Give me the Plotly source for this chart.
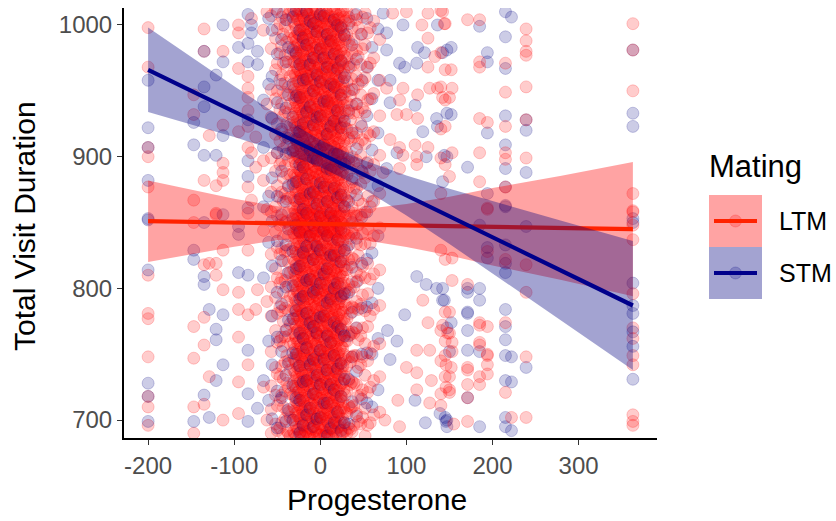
import plotly.graph_objects as go

# ---------------- data ----------------
# Long-term mating (LTM) points, by progesterone column
ltm_left = {
    -200: [998, 968, 907, 900, 877, 810, 781, 777, 748, 718, 710, 696],
    -147: [947, 932, 867, 850, 771, 747, 710, 690],
    -135: [997, 980, 882, 818, 778, 757, 712],
    -129: [916, 819, 733],
    -121: [878, 857, 856, 819, 810],
    -113: [980, 924, 895, 888, 882, 829, 799, 700],
    -95: [1000, 994, 967, 919, 797, 784, 763, 729, 705],
    -84: [961, 952, 945, 935, 923, 907, 877, 857, 829, 780, 742],
    -80: [1005, 903, 867],
    -75: [915, 892, 784],
    -73: [799],
    -66: [996, 897, 882, 844, 725],
    -62: [1010, 940, 860, 790, 700],
}
ltm_mid = {
    -57: [1007, 982, 951, 930, 899, 873, 858, 826, 801, 779, 752, 726, 708, 690],
    -52: [1012, 990, 966, 944, 917, 889, 862, 843, 815, 793, 768, 740, 719, 697],
    -50: [997, 971, 950, 925, 903, 878, 855, 831, 808, 781, 759, 735, 711, 692],
    -47: [1001, 979, 958, 936, 912, 894, 869, 848, 826, 804, 786, 760, 733, 715, 694],
    -45: [1006, 984, 962, 940, 919, 897, 873, 852, 830, 807, 783, 763, 741, 719, 698],
    -43: [1009, 993, 971, 949, 931, 906, 884, 866, 839, 821, 797, 775, 756, 731, 710, 689],
    -41: [999, 977, 956, 934, 915, 893, 872, 850, 828, 806, 785, 763, 744, 722, 701],
    -39: [1004, 987, 966, 947, 925, 909, 887, 868, 851, 829, 811, 790, 769, 749, 728, 707, 692],
    -37: [1008, 990, 972, 953, 933, 916, 897, 877, 858, 840, 820, 802, 783, 764, 745, 725, 706, 690],
    -35: [1011, 995, 978, 961, 940, 924, 903, 886, 869, 847, 830, 812, 794, 773, 758, 738, 720, 702, 688],
    31: [1010, 993, 975, 957, 941, 921, 903, 886, 867, 849, 831, 814, 796, 777, 760, 741, 722, 705, 690],
    33: [1006, 988, 970, 950, 933, 914, 896, 877, 859, 840, 822, 803, 785, 767, 748, 730, 711, 694],
    35: [1003, 984, 968, 946, 928, 912, 890, 872, 853, 838, 818, 799, 781, 765, 744, 727, 709, 693],
    37: [998, 979, 959, 939, 920, 900, 881, 862, 843, 823, 805, 786, 767, 748, 729, 710, 691],
    39: [1008, 989, 970, 951, 933, 915, 895, 876, 857, 841, 822, 801, 785, 766, 749, 728, 711, 696],
    42: [1004, 981, 961, 940, 918, 897, 876, 855, 834, 812, 790, 770, 749, 727, 705],
    44: [998, 976, 955, 934, 910, 891, 867, 848, 825, 806, 784, 761, 740, 718, 699],
    47: [993, 970, 947, 925, 901, 879, 856, 833, 810, 788, 764, 742, 719, 697],
    49: [1006, 982, 957, 937, 913, 888, 864, 842, 817, 795, 770, 748, 723, 702],
    52: [1009, 985, 960, 934, 910, 884, 858, 834, 808, 783, 758, 734, 709, 688],
    55: [994, 968, 943, 918, 896, 870, 845, 819, 796, 771, 745, 721, 696],
    58: [998, 971, 944, 916, 889, 862, 834, 807, 779, 751, 725, 698],
    62: [1003, 975, 948, 919, 894, 866, 840, 811, 784, 756, 730, 704],
    69: [989, 958, 931, 901, 872, 846, 814, 787, 758, 733, 706],
}
ltm_core = {
    -31: [1011, 1002, 990, 983, 972, 964, 953, 945, 937, 926, 918, 907, 899, 888, 880, 869, 861, 852, 842, 833, 822, 814, 805, 795, 785, 777, 766, 758, 747, 738, 729, 719, 710, 700, 691],
    -29.5: [1009, 1000, 991, 980, 972, 962, 951, 943, 933, 924, 914, 905, 896, 886, 877, 867, 858, 849, 839, 830, 820, 811, 802, 792, 783, 773, 764, 754, 745, 736, 726, 717, 707, 698, 689],
    -28: [1007, 997, 988, 978, 969, 960, 949, 941, 931, 922, 912, 903, 894, 884, 874, 866, 856, 846, 838, 827, 818, 809, 799, 790, 780, 771, 762, 752, 743, 733, 724, 714, 705, 695, 687],
    -26.5: [1004, 994, 985, 975, 966, 957, 947, 938, 928, 919, 909, 900, 891, 881, 872, 862, 853, 844, 834, 825, 815, 806, 797, 787, 778, 768, 759, 750, 740, 731, 721, 712, 703, 693],
    -25: [1012, 1004, 993, 985, 975, 966, 957, 947, 938, 928, 919, 910, 900, 890, 882, 872, 863, 853, 844, 835, 825, 816, 806, 797, 787, 779, 769, 760, 750, 741, 731, 722, 712, 703, 693],
    -23.5: [1011, 1002, 992, 983, 973, 964, 955, 945, 936, 926, 917, 908, 898, 889, 879, 870, 861, 851, 842, 832, 823, 814, 804, 795, 785, 776, 767, 757, 748, 738, 729, 720, 710, 701, 691],
    -22: [1009, 999, 991, 980, 971, 962, 952, 943, 934, 924, 915, 905, 896, 887, 877, 868, 858, 849, 840, 830, 821, 811, 802, 793, 783, 774, 764, 755, 746, 736, 727, 717, 708, 698, 689],
    -20.5: [1007, 997, 988, 979, 969, 960, 950, 941, 932, 922, 913, 903, 894, 885, 875, 866, 856, 847, 838, 828, 819, 809, 800, 791, 781, 772, 762, 753, 744, 734, 725, 715, 706, 697, 688],
    -19: [1005, 996, 986, 977, 967, 958, 948, 939, 930, 920, 911, 901, 892, 883, 873, 864, 855, 845, 836, 826, 817, 808, 798, 789, 779, 770, 761, 751, 742, 732, 723, 714, 704, 695, 688],
    -17.5: [1012, 1003, 993, 984, 974, 965, 956, 946, 937, 927, 918, 909, 899, 890, 880, 871, 862, 852, 843, 833, 824, 815, 805, 796, 786, 777, 768, 758, 749, 739, 730, 721, 711, 702, 692],
    -16: [1011, 1001, 992, 982, 973, 964, 954, 945, 935, 926, 917, 907, 898, 888, 879, 870, 860, 851, 841, 832, 823, 813, 804, 794, 785, 776, 766, 757, 747, 738, 729, 719, 710, 700, 691],
    -14.5: [1008, 999, 989, 980, 970, 961, 952, 942, 933, 923, 914, 905, 895, 886, 876, 867, 858, 848, 839, 829, 820, 811, 801, 792, 782, 773, 764, 754, 745, 735, 726, 717, 707, 698, 689],
    -13: [1008, 998, 989, 980, 970, 961, 951, 942, 933, 923, 914, 904, 895, 886, 876, 867, 857, 848, 839, 829, 820, 810, 801, 792, 782, 773, 763, 754, 745, 735, 726, 716, 707, 697, 688],
    -11.5: [1005, 995, 986, 976, 967, 958, 948, 939, 929, 920, 911, 901, 892, 882, 873, 864, 854, 845, 835, 826, 817, 807, 798, 788, 779, 770, 760, 751, 741, 732, 723, 713, 704, 694, 687],
    -10: [1012, 1003, 994, 984, 975, 965, 956, 947, 937, 928, 918, 909, 900, 890, 881, 871, 862, 853, 843, 834, 824, 815, 806, 796, 787, 777, 768, 759, 749, 740, 730, 721, 712, 702, 693],
    -8.5: [1010, 1001, 991, 982, 973, 963, 954, 944, 935, 926, 916, 907, 897, 888, 879, 869, 860, 850, 841, 832, 822, 813, 803, 794, 785, 775, 766, 756, 747, 738, 728, 719, 709, 700, 691],
    -7: [1006, 997, 987, 978, 968, 959, 950, 940, 931, 921, 912, 903, 893, 884, 874, 865, 856, 846, 837, 827, 818, 809, 799, 790, 780, 771, 762, 752, 743, 733, 724, 715, 705, 696, 687],
    -5.5: [1012, 1002, 993, 983, 974, 965, 955, 946, 936, 927, 918, 908, 899, 889, 880, 871, 861, 852, 842, 833, 824, 814, 805, 795, 786, 777, 767, 758, 748, 739, 730, 720, 711, 701, 692],
    -4: [1010, 1000, 991, 981, 972, 963, 953, 944, 934, 925, 916, 906, 897, 887, 878, 869, 859, 850, 840, 831, 822, 812, 803, 793, 784, 775, 765, 756, 746, 737, 728, 718, 709, 699, 690],
    -2.5: [1004, 995, 985, 976, 967, 957, 948, 938, 929, 920, 910, 901, 891, 882, 873, 863, 854, 844, 835, 826, 816, 807, 797, 788, 779, 769, 760, 750, 741, 732, 722, 713, 703, 694],
    -1: [1007, 998, 988, 979, 969, 960, 951, 941, 932, 922, 913, 904, 894, 885, 875, 866, 857, 847, 838, 828, 819, 810, 800, 791, 781, 772, 763, 753, 744, 734, 725, 716, 706, 697, 689],
    0.5: [1009, 999, 990, 981, 971, 962, 952, 943, 934, 924, 915, 905, 896, 887, 877, 868, 858, 849, 840, 830, 821, 811, 802, 793, 783, 774, 764, 755, 746, 736, 727, 717, 708, 699, 689],
    2: [1011, 1002, 992, 983, 974, 964, 955, 945, 936, 927, 917, 908, 898, 889, 880, 870, 861, 851, 842, 833, 823, 814, 804, 795, 786, 776, 767, 757, 748, 739, 729, 720, 710, 701, 692],
    3.5: [1006, 997, 987, 978, 968, 959, 950, 940, 931, 921, 912, 903, 893, 884, 874, 865, 856, 846, 837, 827, 818, 809, 799, 790, 780, 771, 762, 752, 743, 733, 724, 715, 705, 696, 688],
    5: [1005, 995, 986, 976, 967, 958, 948, 939, 929, 920, 911, 901, 892, 882, 873, 864, 854, 845, 835, 826, 817, 807, 798, 788, 779, 770, 760, 751, 741, 732, 723, 713, 704, 694, 688],
    6.5: [1011, 1001, 992, 983, 973, 964, 954, 945, 936, 926, 917, 907, 898, 889, 879, 870, 860, 851, 842, 832, 823, 813, 804, 795, 785, 776, 766, 757, 748, 738, 729, 719, 710, 701, 691],
    8: [1009, 1000, 990, 981, 971, 962, 953, 943, 934, 924, 915, 906, 896, 887, 877, 868, 859, 849, 840, 830, 821, 812, 802, 793, 783, 774, 765, 755, 746, 736, 727, 718, 708, 699, 690],
    9.5: [1007, 998, 988, 979, 970, 960, 951, 941, 932, 923, 913, 904, 894, 885, 876, 866, 857, 847, 838, 829, 819, 810, 800, 791, 782, 772, 763, 753, 744, 735, 725, 716, 706, 697, 688],
    11: [1012, 1003, 993, 984, 975, 965, 956, 946, 937, 928, 918, 909, 899, 890, 881, 871, 862, 852, 843, 834, 824, 815, 805, 796, 787, 777, 768, 758, 749, 740, 730, 721, 711, 702, 693],
    12.5: [1003, 994, 985, 975, 966, 956, 947, 938, 928, 919, 909, 900, 891, 881, 872, 862, 853, 844, 834, 825, 815, 806, 797, 787, 778, 768, 759, 750, 740, 731, 721, 712, 703, 693],
    14: [1006, 996, 987, 978, 968, 959, 949, 940, 931, 921, 912, 902, 893, 884, 874, 865, 855, 846, 837, 827, 818, 808, 799, 790, 780, 771, 761, 752, 743, 733, 724, 714, 705, 696, 687],
    15.5: [1012, 1002, 993, 984, 974, 965, 955, 946, 937, 927, 918, 908, 899, 890, 880, 871, 861, 852, 843, 833, 824, 814, 805, 796, 786, 777, 767, 758, 749, 739, 730, 720, 711, 702, 692],
    17: [1010, 1001, 991, 982, 972, 963, 954, 944, 935, 925, 916, 907, 897, 888, 878, 869, 860, 850, 841, 831, 822, 813, 803, 794, 784, 775, 766, 756, 747, 737, 728, 719, 709, 700, 691],
    18.5: [1008, 999, 989, 980, 971, 961, 952, 942, 933, 924, 914, 905, 895, 886, 877, 867, 858, 848, 839, 830, 820, 811, 801, 792, 783, 773, 764, 754, 745, 736, 726, 717, 707, 698, 689],
    20: [1004, 995, 985, 976, 966, 957, 948, 938, 929, 919, 910, 901, 891, 882, 872, 863, 854, 844, 835, 825, 816, 807, 797, 788, 778, 769, 760, 750, 741, 731, 722, 713, 703, 694],
    21.5: [1005, 996, 986, 977, 968, 958, 949, 939, 930, 921, 911, 902, 892, 883, 874, 864, 855, 845, 836, 827, 817, 808, 798, 789, 780, 770, 761, 751, 742, 733, 723, 714, 704, 695],
    23: [1008, 999, 989, 980, 970, 961, 951, 942, 933, 923, 914, 904, 895, 886, 876, 867, 857, 848, 839, 829, 820, 810, 801, 792, 782, 773, 763, 754, 745, 735, 726, 716, 707, 698, 689],
    24.5: [1010, 1000, 991, 981, 972, 963, 953, 944, 934, 925, 916, 906, 897, 887, 878, 869, 859, 850, 840, 831, 822, 812, 803, 793, 784, 775, 765, 756, 746, 737, 728, 718, 709, 699, 690],
    26: [1011, 997, 984, 971, 957, 944, 930, 917, 903, 890, 876, 863, 849, 836, 822, 809, 795, 782, 768, 755, 741, 728, 714, 701, 690],
    27.5: [1006, 993, 979, 966, 952, 939, 925, 912, 898, 885, 871, 858, 844, 831, 817, 804, 790, 777, 763, 750, 736, 723, 709, 696],
    29: [1003, 989, 976, 962, 949, 935, 922, 908, 895, 881, 868, 854, 841, 827, 814, 800, 787, 773, 760, 746, 733, 719, 706, 692],
}
ltm_right = {
    73: [888], 75: [700], 77: [952], 81: [913], 84: [1009], 89: [932], 90: [715],
    92: [943, 907, 891, 695], 96: [952, 901], 100: [1010, 932, 740], 110: [909],
    112: [900, 894, 753, 736, 723], 113: [947, 929], 118: [1000], 119: [791],
    125: [1009, 990, 968, 907, 774], 127: [952, 753, 713], 129: [730], 133: [976],
    136: [952], 140: [1011, 979, 953, 921, 899, 872, 829, 768, 745, 720, 711],
    142: [1010, 945, 772], 144: [1001], 145: [1001, 966, 943, 923, 894, 822, 782, 760, 749, 733],
    146: [742, 725], 148: [766], 150: [945, 885, 782, 766, 733, 723, 721], 152: [966, 740],
    153: [952, 903, 823, 806, 759, 752], 155: [697],
    171: [1004, 803, 740, 738, 727, 717, 699],
    185: [1004, 972, 968, 929, 903, 881, 772, 774, 759, 757, 733, 727],
    194: [926, 861, 860, 828, 771, 750, 749, 742, 735],
    215: [971, 949, 923, 903, 898, 877, 822, 774, 721],
    222: [702],
    239: [997, 988, 980, 977, 953, 928, 899, 818, 797, 748, 702],
    363: [1001, 981, 950, 872, 859, 858, 848, 837, 796, 770, 762, 749, 742, 704, 699, 696],
}

# Short-term mating (STM) points, by progesterone column
stm_left = {
    -200: [958, 922, 907, 882, 853, 852, 814, 728, 718, 699],
    -147: [926, 909, 829, 822, 699],
    -135: [980, 953, 938, 901, 850, 809, 803, 719],
    -129: [784, 702],
    -121: [962, 901, 769, 761, 730],
    -113: [1000, 972, 916, 856, 780, 742],
    -95: [983, 847, 841, 812],
    -84: [1008, 986, 972, 928, 897, 885, 861, 810, 753, 720, 699],
    -80: [1000, 994],
    -73: [980, 970, 709],
    -66: [943, 907, 862, 808, 730],
    -60: [1005, 955, 870, 835, 760, 715],
}
stm_mid = {
    -56: [996, 961, 929, 884, 851, 817, 779, 742, 701],
    -50: [1010, 978, 941, 903, 870, 836, 797, 763, 722, 694],
    -45: [989, 955, 921, 889, 856, 821, 788, 752, 717],
    -40: [1004, 972, 937, 902, 866, 833, 801, 768, 734, 699],
    -37: [983, 947, 914, 878, 845, 812, 776, 743, 708],
    33: [1001, 968, 935, 899, 866, 833, 797, 764, 731, 697],
    37: [985, 951, 918, 883, 850, 816, 782, 748, 714],
    42: [1008, 974, 940, 906, 871, 838, 805, 770, 737, 703],
    48: [993, 958, 923, 889, 854, 819, 785, 750, 716],
    54: [1005, 968, 931, 895, 858, 822, 786, 751, 713],
    60: [983, 944, 905, 866, 827, 789, 750, 710],
    67: [997, 958, 918, 878, 840, 800, 762, 723],
}
stm_core = {
    -32: [1006, 981, 955, 930, 904, 879, 853, 828, 802, 777, 751, 726, 700],
    -28: [1011, 979, 946, 913, 881, 848, 815, 783, 750, 717],
    -24: [996, 970, 945, 919, 894, 868, 843, 817, 792, 766, 741, 715, 690],
    -20: [990, 958, 925, 892, 860, 827, 794, 762, 729, 696],
    -16: [1010, 985, 959, 934, 908, 883, 857, 832, 806, 781, 755, 730, 704],
    -12: [1003, 970, 938, 905, 872, 840, 807, 774, 742, 709],
    -8: [1001, 975, 950, 924, 899, 873, 848, 822, 797, 771, 746, 720, 695],
    -4: [995, 962, 930, 897, 864, 832, 799, 766, 734, 701],
    0: [1008, 982, 957, 931, 906, 880, 855, 829, 804, 778, 753, 727, 702],
    4: [1007, 975, 942, 909, 877, 844, 811, 779, 746, 713],
    8: [993, 968, 942, 917, 891, 866, 840, 815, 789, 764, 738, 713, 688],
    12: [988, 955, 923, 890, 857, 825, 792, 759, 727, 694],
    16: [1004, 978, 953, 927, 902, 876, 851, 825, 800, 774, 749, 723, 698],
    20: [1000, 967, 935, 902, 869, 837, 804, 771, 739, 706],
    24: [998, 973, 947, 922, 896, 871, 845, 820, 794, 769, 743, 718, 692],
    28: [992, 960, 927, 894, 862, 829, 796, 764, 731, 698],
}
stm_right = {
    73: [1009], 77: [994, 981, 891], 78: [768], 81: [958, 941, 746], 89: [903, 760],
    92: [971], 96: [1000], 98: [968, 780], 110: [939, 715], 112: [971, 809], 113: [983],
    119: [919], 121: [979], 122: [698], 123: [900, 803], 135: [929, 800], 136: [1000, 923],
    139: [705], 142: [979, 881, 800, 791], 144: [901, 791], 145: [702], 146: [699],
    147: [981, 933, 900, 770, 700, 695], 150: [752], 152: [983, 932, 774],
    171: [892, 800, 797, 782, 781, 768, 753, 717],
    185: [999, 848, 800, 791, 752, 695],
    194: [979, 972, 918, 872, 831, 823],
    215: [1010, 991, 967, 931, 909, 891, 877, 863, 862, 833, 819, 812, 784, 771, 761, 749, 730, 702, 695],
    222: [1006, 748, 729, 692],
    239: [928, 920, 888, 847, 740],
    363: [981, 933, 923, 853, 850, 804, 787, 781, 767, 756, 731],
}

# Linear fits with confidence bands
fit_x = [-200, -150, -100, -50, 0, 50, 100, 150, 200, 280, 363]
ltm_fit = [851, 850.5, 849.9, 849.4, 848.9, 848.4, 847.8, 847.3, 846.8, 845.9, 845]
ltm_upper = [882, 874.9, 868.1, 862.3, 859, 860, 864.1, 869.6, 876.2, 885.5, 896]
ltm_lower = [820, 826.1, 831.7, 836.5, 838.8, 836.8, 831.5, 825, 817.4, 806.3, 794]
stm_fit = [966, 950.1, 934.2, 918.3, 902.4, 886.5, 870.6, 854.7, 838.8, 813.4, 787]
stm_upper = [998, 975.7, 953.5, 932.1, 912.7, 897.4, 885.8, 875.7, 866.1, 851.3, 836]
stm_lower = [934, 924.5, 914.9, 904.5, 892.1, 875.6, 855.4, 833.7, 811.5, 775.5, 738]

x_ticks = [-200, -100, 0, 100, 200, 300]
x_tick_labels = ["-200", "-100", "0", "100", "200", "300"]
y_ticks = [700, 800, 900, 1000]
groups = ["LTM", "STM"]

# ---------------- styling ----------------
RED_PT = "rgba(255,0,0,0.2)"
BLUE_PT = "rgba(0,0,128,0.2)"
RED_LINE = "#FF2200"
BLUE_LINE = "#00008B"
RED_FILL = "rgba(255,0,0,0.36)"
BLUE_FILL = "rgba(0,0,128,0.36)"
FONT = "Liberation Sans, Arial, sans-serif"

W, H = 836, 521
L, R, T, B = 124, 657, 8, 438


def px(xp):
    return (xp - L) / (R - L)


def py(yp):
    return (B - yp) / (B - T)


def flatten(*dicts):
    xs, ys = [], []
    for d in dicts:
        for xv, vals in d.items():
            for v in vals:
                xs.append(xv)
                ys.append(v)
    return xs, ys


def interleave(a, b, ca, cb):
    ax, ay = a
    bx, by = b
    pts = [((i + 0.5) / max(len(ax), 1), ax[i], ay[i], ca) for i in range(len(ax))]
    pts += [((j + 0.25) / max(len(bx), 1), bx[j], by[j], cb) for j in range(len(bx))]
    pts.sort(key=lambda p: p[0])
    return pts


pts = interleave(flatten(ltm_left, ltm_mid, ltm_right), flatten(stm_left, stm_mid, stm_right),
                 RED_PT, BLUE_PT)
pts += interleave(flatten(ltm_core), flatten(stm_core), RED_PT, BLUE_PT)

fig = go.Figure()
fig.add_trace(go.Scatter(
    x=[p[1] for p in pts], y=[p[2] for p in pts], mode="markers",
    marker=dict(size=12, color=[p[3] for p in pts],
                line=dict(width=1, color=[p[3] for p in pts])),
    hoverinfo="skip", showlegend=False))


def band(xs, up, lo, fill):
    return go.Scatter(x=list(xs) + list(xs)[::-1], y=list(up) + list(lo)[::-1],
                      fill="toself", fillcolor=fill, mode="lines",
                      line=dict(width=0, color="rgba(0,0,0,0)"),
                      hoverinfo="skip", showlegend=False)


fig.add_trace(band(fit_x, ltm_upper, ltm_lower, RED_FILL))
fig.add_trace(go.Scatter(x=fit_x, y=ltm_fit, mode="lines",
                         line=dict(color=RED_LINE, width=4.2), showlegend=False))
fig.add_trace(band(fit_x, stm_upper, stm_lower, BLUE_FILL))
fig.add_trace(go.Scatter(x=fit_x, y=stm_fit, mode="lines",
                         line=dict(color=BLUE_LINE, width=4.2), showlegend=False))

axis_common = dict(showgrid=False, zeroline=False, showline=True, linecolor="black",
                   linewidth=2, ticks="outside", ticklen=5, tickwidth=1.2,
                   tickcolor="#333333",
                   tickfont=dict(family=FONT, size=24, color="#4D4D4D"))

fig.update_layout(
    width=W, height=H, margin=dict(l=L, r=W - R, t=T, b=H - B),
    plot_bgcolor="white", paper_bgcolor="white", showlegend=False,
    xaxis=dict(range=[-228, 391], tickvals=x_ticks, ticktext=x_tick_labels, **axis_common),
    yaxis=dict(range=[686.4, 1012.9], tickvals=y_ticks, **axis_common),
)

ann = [
    dict(text="Progesterone", x=px(377), y=py(499), xanchor="center", yanchor="middle",
         font=dict(family=FONT, size=30, color="black")),
    dict(text="Total Visit Duration", x=px(25), y=py(226), xanchor="center",
         yanchor="middle", textangle=-90, font=dict(family=FONT, size=30, color="black")),
    dict(text="Mating", x=px(707), y=py(167), xanchor="left", yanchor="middle",
         font=dict(family=FONT, size=31, color="black")),
]
shapes = []
key_fills = [RED_FILL, BLUE_FILL]
key_lines = [RED_LINE, BLUE_LINE]
key_pts = [RED_PT, BLUE_PT]
for k, name in enumerate(groups):
    top = 195 + 52 * k
    cy = top + 26
    shapes.append(dict(type="rect", xref="paper", yref="paper", x0=px(709), x1=px(762),
                       y0=py(top + 52), y1=py(top), fillcolor=key_fills[k], line=dict(width=0),
                       layer="above"))
    shapes.append(dict(type="circle", xref="paper", yref="paper", x0=px(729.5), x1=px(741.5),
                       y0=py(cy + 6), y1=py(cy - 6), fillcolor=key_pts[k],
                       line=dict(width=1, color=key_pts[k]), layer="above"))
    shapes.append(dict(type="line", xref="paper", yref="paper", x0=px(714), x1=px(757),
                       y0=py(cy), y1=py(cy), line=dict(color=key_lines[k], width=4.2),
                       layer="above"))
    ann.append(dict(text=name, x=px(777), y=py(cy), xanchor="left", yanchor="middle",
                    font=dict(family=FONT, size=25, color="black")))

for a in ann:
    a.update(xref="paper", yref="paper", showarrow=False)
fig.update_layout(annotations=ann, shapes=shapes)

fig.write_html("out.html")
